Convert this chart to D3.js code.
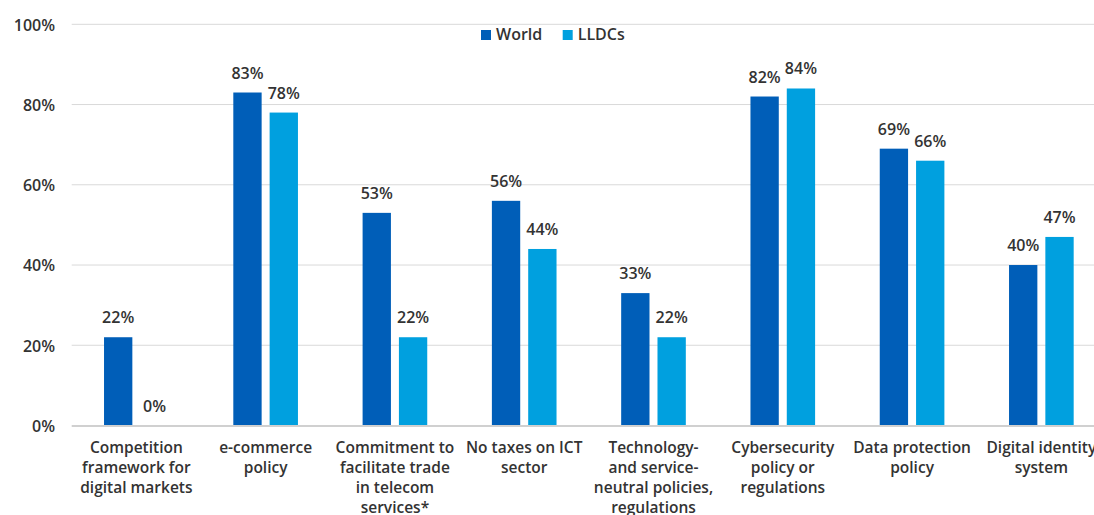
<!DOCTYPE html>
<html>
<head>
<meta charset="utf-8">
<script src="https://cdn.jsdelivr.net/npm/d3@7"></script>
<style>
  html, body { margin: 0; padding: 0; background: #fff; }
  svg { display: block; font-family: "Open Sans", Lato, sans-serif; }
</style>
</head>
<body>
<svg id="chart" width="1094" height="515"></svg>
<script>
// Share of economies with each digital policy in place
const categories = [
  ["Competition", "framework for", "digital markets"],
  ["e-commerce", "policy"],
  ["Commitment to", "facilitate trade", "in telecom", "services*"],
  ["No taxes on ICT", "sector"],
  ["Technology-", "and service-", "neutral policies,", "regulations"],
  ["Cybersecurity", "policy or", "regulations"],
  ["Data protection", "policy"],
  ["Digital identity", "system"]
];
const seriesNames = ["World", "LLDCs"];
const worldValues = [22, 83, 53, 56, 33, 82, 69, 40];
const lldcValues = [0, 78, 22, 44, 22, 84, 66, 47];
const yTicks = [0, 20, 40, 60, 80, 100];
const colors = ["#005EB8", "#00A0DF"];

const svg = d3.select("#chart");
const W = 1094;
const plotLeft = 71.7, plotRight = 1106;
const yTop = 24.3, yBottom = 425.5;
const FONT = "'Open Sans', Lato, sans-serif";

const keys = categories.map((c, i) => i);
const x = d3.scaleBand().domain(keys).range([plotLeft, plotRight]).padding(0);
const bw = x.bandwidth();
const xs = d3.scaleBand().domain(seriesNames)
  .range([bw * 0.25, bw * 0.75]).paddingInner(0.22).paddingOuter(0);
const y = d3.scaleLinear().domain([0, 100]).range([yBottom, yTop]);

// gridlines
svg.append("g").selectAll("line").data(yTicks.filter(t => t > 0)).join("line")
  .attr("x1", plotLeft).attr("x2", W)
  .attr("y1", d => y(d)).attr("y2", d => y(d))
  .attr("stroke", "#d9d9d9").attr("stroke-width", 1);

// y axis labels
const yAxis = d3.axisLeft(y).tickValues(yTicks).tickFormat(d => d + "%").tickSize(0).tickPadding(0);
const gy = svg.append("g").attr("transform", "translate(55,0)").call(yAxis);
gy.select(".domain").remove();
gy.selectAll("text")
  .attr("font-family", FONT)
  .attr("font-size", 16).attr("font-weight", 600).attr("fill", "#333")
  .attr("dy", "0.36em");

const data = keys.map(i => ({ i, vals: [worldValues[i], lldcValues[i]] }));

const groups = svg.append("g").selectAll("g").data(data).join("g")
  .attr("transform", d => `translate(${x(d.i)},0)`);

groups.selectAll("rect").data(d => d.vals.map((v, k) => ({ v, k }))).join("rect")
  .attr("x", d => xs(seriesNames[d.k]))
  .attr("width", xs.bandwidth())
  .attr("y", d => y(d.v))
  .attr("height", d => y(0) - y(d.v))
  .attr("fill", d => colors[d.k]);

groups.selectAll("text.val").data(d => d.vals.map((v, k) => ({ v, k }))).join("text")
  .attr("class", "val")
  .attr("x", d => xs(seriesNames[d.k]) + xs.bandwidth() / 2)
  .attr("y", d => y(d.v) - 14)
  .attr("text-anchor", "middle")
  .attr("font-size", 16).attr("font-weight", 600).attr("fill", "#333")
  .text(d => d.v + "%");

// baseline
svg.append("line")
  .attr("x1", plotLeft).attr("x2", W)
  .attr("y1", y(0) + 0.5).attr("y2", y(0) + 0.5)
  .attr("stroke", "#d0d0d0").attr("stroke-width", 2);

// category labels
const xAxis = svg.append("g");
xAxis.selectAll("text").data(data).join("text")
  .attr("x", d => x(d.i) + bw / 2)
  .attr("y", 452.7)
  .attr("text-anchor", "middle")
  .attr("font-size", 15.5).attr("font-weight", 600).attr("fill", "#333")
  .each(function (d) {
    const t = d3.select(this);
    categories[d.i].forEach((line, li) => {
      t.append("tspan").attr("x", x(d.i) + bw / 2).attr("dy", li === 0 ? 0 : 20).text(line);
    });
  });

// legend
const legend = svg.append("g");
const legendX = [481, 562.7];
seriesNames.forEach((name, k) => {
  legend.append("rect").attr("x", legendX[k]).attr("y", 30).attr("width", 10).attr("height", 10)
    .attr("fill", colors[k]);
  legend.append("text").attr("x", legendX[k] + 15).attr("y", 40)
    .attr("font-size", 16).attr("font-weight", 600).attr("fill", "#333")
    .text(name);
});
</script>
</body>
</html>
